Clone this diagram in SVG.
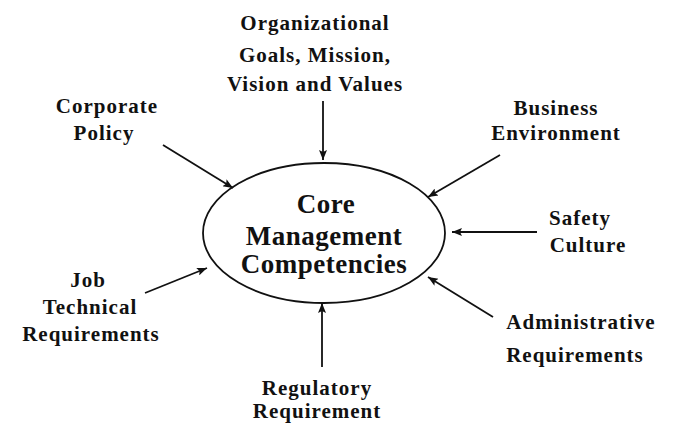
<svg xmlns="http://www.w3.org/2000/svg" width="673" height="441" viewBox="0 0 673 441">
  <style>
    .label { font-family: "Liberation Serif", "Times New Roman", serif; font-weight: bold; font-size: 21px; letter-spacing: 1px; fill: #111; text-anchor: middle; }
    .core { font-family: "Liberation Serif", "Times New Roman", serif; font-weight: bold; font-size: 27px; letter-spacing: 0.5px; fill: #111; text-anchor: middle; }
    .arrow { stroke: #111; stroke-width: 1.8; fill: none; marker-end: url(#head); }
  </style>
  <defs>
    <marker id="head" viewBox="0 0 10 8" refX="10" refY="4" markerUnits="userSpaceOnUse" markerWidth="11" markerHeight="8" orient="auto">
      <path d="M0,0 L10,4 L0,8 L2,4 Z" fill="#111"/>
    </marker>
  </defs>
  <rect width="673" height="441" fill="#fff"/>

  <g id="core">
    <ellipse cx="324" cy="233" rx="121" ry="70" fill="none" stroke="#111" stroke-width="1.8"/>
    <text class="core" x="326" y="213">Core</text>
    <text class="core" x="324" y="245">Management</text>
    <text class="core" x="324" y="273">Competencies</text>
  </g>

  <g id="goals">
    <text class="label" x="315" y="30">Organizational</text>
    <text class="label" x="315" y="62">Goals, Mission,</text>
    <text class="label" x="315" y="91">Vision and Values</text>
  </g>

  <g id="corporate-policy">
    <text class="label" x="107" y="113">Corporate</text>
    <text class="label" x="104" y="140">Policy</text>
  </g>

  <g id="business-environment">
    <text class="label" x="556" y="115">Business</text>
    <text class="label" x="556" y="140">Environment</text>
  </g>

  <g id="safety-culture">
    <text class="label" x="580" y="225">Safety</text>
    <text class="label" x="588" y="252">Culture</text>
  </g>

  <g id="job-technical">
    <text class="label" x="88" y="287">Job</text>
    <text class="label" x="90" y="314">Technical</text>
    <text class="label" x="91" y="341">Requirements</text>
  </g>

  <g id="administrative">
    <text class="label" x="581" y="329">Administrative</text>
    <text class="label" x="575" y="362">Requirements</text>
  </g>

  <g id="regulatory">
    <text class="label" x="317" y="395">Regulatory</text>
    <text class="label" x="317" y="418">Requirement</text>
  </g>

  <g id="connectors">
    <line class="arrow" x1="323" y1="101" x2="323" y2="160"/>
    <line class="arrow" x1="163" y1="145" x2="233" y2="188"/>
    <line class="arrow" x1="500" y1="155" x2="428" y2="197"/>
    <line class="arrow" x1="537" y1="232" x2="452" y2="232"/>
    <line class="arrow" x1="493" y1="317" x2="428" y2="277"/>
    <line class="arrow" x1="322" y1="367" x2="322" y2="303"/>
    <line class="arrow" x1="145" y1="293" x2="207" y2="268"/>
  </g>
</svg>
